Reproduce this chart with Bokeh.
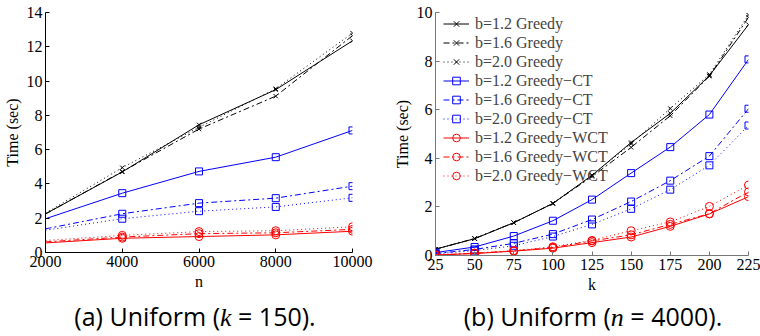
from bokeh.plotting import figure
from bokeh.layouts import row, column
from bokeh.models import Range1d, FixedTicker, Div
from bokeh.embed import file_html
from bokeh.resources import INLINE

# ---------------- data ----------------
n_vals = [2000, 4000, 6000, 8000, 10000]
n_greedy_12 = [2.25, 4.70, 7.45, 9.50, 12.35]
n_greedy_16 = [2.25, 4.72, 7.20, 9.12, 12.65]
n_greedy_20 = [2.30, 4.95, 7.30, 9.55, 12.80]
n_ct_12 = [1.97, 3.46, 4.73, 5.56, 7.12]
n_ct_16 = [1.38, 2.26, 2.88, 3.17, 3.87]
n_ct_20 = [1.30, 1.97, 2.41, 2.66, 3.19]
n_wct_12 = [0.56, 0.83, 0.93, 1.03, 1.24]
n_wct_16 = [0.62, 0.90, 1.10, 1.15, 1.35]
n_wct_20 = [0.70, 1.00, 1.22, 1.27, 1.50]

k_vals = [25, 50, 75, 100, 125, 150, 175, 200, 225]
k_greedy_12 = [0.26, 0.69, 1.35, 2.14, 3.30, 4.65, 5.85, 7.40, 9.50]
k_greedy_16 = [0.26, 0.70, 1.35, 2.14, 3.25, 4.45, 5.75, 7.38, 9.80]
k_greedy_20 = [0.26, 0.70, 1.35, 2.15, 3.30, 4.60, 6.05, 7.45, 9.90]
k_ct_12 = [0.12, 0.35, 0.80, 1.43, 2.30, 3.39, 4.46, 5.80, 8.07]
k_ct_16 = [0.08, 0.25, 0.50, 0.88, 1.48, 2.22, 3.08, 4.09, 6.04]
k_ct_20 = [0.07, 0.20, 0.40, 0.78, 1.28, 1.92, 2.71, 3.71, 5.35]
k_wct_12 = [0.02, 0.08, 0.18, 0.30, 0.53, 0.76, 1.20, 1.71, 2.42]
k_wct_16 = [0.02, 0.09, 0.19, 0.33, 0.60, 0.85, 1.28, 1.72, 2.62]
k_wct_20 = [0.03, 0.10, 0.20, 0.36, 0.62, 1.02, 1.38, 2.02, 2.90]

labels = ["b=1.2 Greedy", "b=1.6 Greedy", "b=2.0 Greedy",
          "b=1.2 Greedy\u2212CT", "b=1.6 Greedy\u2212CT", "b=2.0 Greedy\u2212CT",
          "b=1.2 Greedy\u2212WCT", "b=1.6 Greedy\u2212WCT", "b=2.0 Greedy\u2212WCT"]
n_ticks = [2000, 4000, 6000, 8000, 10000]
n_time_ticks = [0, 2, 4, 6, 8, 10, 12, 14]
k_ticks = [25, 50, 75, 100, 125, 150, 175, 200, 225]
k_time_ticks = [0, 2, 4, 6, 8, 10]

SERIF = "Times New Roman"
colors = ["black"] * 3 + ["#0000ff"] * 3 + ["#ff0000"] * 3
dashes = ["solid", "6 3 2 3", "1 3"] * 3
markers = ["x"] * 3 + ["square"] * 3 + ["circle"] * 3
msizes = [6] * 3 + [7] * 3 + [8] * 3


def style(p, axis_color):
    for ax in (p.xaxis[0], p.yaxis[0]):
        ax.axis_line_color = axis_color
        ax.major_tick_line_color = axis_color
        ax.major_tick_in = 4
        ax.major_tick_out = 0
        ax.minor_tick_line_color = None
        ax.major_label_text_font = SERIF
        ax.major_label_text_font_size = "16px"
        ax.major_label_text_font_style = "normal"
        ax.major_label_text_color = "black"
        ax.axis_label_text_font = SERIF
        ax.axis_label_text_font_size = "16px"
        ax.axis_label_text_font_style = "normal"
        ax.axis_label_text_color = "black"
        ax.major_label_standoff = 3
        ax.axis_label_standoff = 3
    p.xgrid.visible = False
    p.ygrid.visible = False
    p.outline_line_color = None


# ---------------- left plot ----------------
p1 = figure(frame_width=307, frame_height=240, min_border_left=45, min_border_right=28,
            min_border_top=12, min_border_bottom=38, output_backend="svg",
            toolbar_location=None, x_range=Range1d(2000, 10000), y_range=Range1d(0, 14))
p1.xaxis.ticker = FixedTicker(ticks=n_ticks)
p1.yaxis.ticker = FixedTicker(ticks=n_time_ticks)
p1.xaxis.axis_label = "n"
p1.yaxis.axis_label = "Time (sec)"
style(p1, "black")

n_series = [n_greedy_12, n_greedy_16, n_greedy_20, n_ct_12, n_ct_16, n_ct_20,
            n_wct_12, n_wct_16, n_wct_20]
for ys, c, d, m, s in zip(n_series, colors, dashes, markers, msizes):
    p1.line(n_vals, ys, line_color=c, line_dash=d, line_width=1)
    p1.scatter(n_vals[1:], ys[1:], marker=m, size=s, line_color=c, fill_color=None,
               line_width=1)

# ---------------- right plot ----------------
p2 = figure(frame_width=313, frame_height=243, min_border_left=55, min_border_right=12,
            min_border_top=9, min_border_bottom=38, output_backend="svg",
            toolbar_location=None, x_range=Range1d(25, 225), y_range=Range1d(0, 10))
p2.xaxis.ticker = FixedTicker(ticks=k_ticks)
p2.yaxis.ticker = FixedTicker(ticks=k_time_ticks)
p2.xaxis.axis_label = "k"
p2.yaxis.axis_label = "Time (sec)"
style(p2, "#777777")

k_series = [k_greedy_12, k_greedy_16, k_greedy_20, k_ct_12, k_ct_16, k_ct_20,
            k_wct_12, k_wct_16, k_wct_20]
for ys, c, d, m, s, lab in zip(k_series, colors, dashes, markers, msizes, labels):
    p2.line(k_vals, ys, line_color=c, line_dash=d, line_width=1, legend_label=lab)
    p2.scatter(k_vals, ys, marker=m, size=s, line_color=c, fill_color=None,
               line_width=1, legend_label=lab)

lg = p2.legend[0]
lg.location = (8, 70)
lg.label_text_font = SERIF
lg.label_text_font_size = "16px"
lg.label_height = 19
lg.glyph_height = 19
lg.glyph_width = 26
lg.spacing = 0
lg.padding = 2
lg.margin = 0
lg.label_standoff = 6
lg.border_line_color = None
lg.background_fill_alpha = 0

# ---------------- captions ----------------
cap_style = ("width:380px;text-align:center;font-family:'Open Sans';font-size:25px;"
             "line-height:30px;padding-top:4px;color:black;white-space:nowrap;")
ital = "font-family:'Liberation Serif';font-style:italic;font-size:26px;"
div_a = Div(text=f'<div style="{cap_style}">(a) Uniform (<span style="{ital}">k</span> = 150).</div>',
            width=380, height=46)
div_b = Div(text=f'<div style="{cap_style}margin-left:8px;">(b) Uniform (<span style="{ital}">n</span> = 4000).</div>',
            width=380, height=46)

layout = column(row(p1, p2), row(div_a, div_b))

open("out.html", "w").write(file_html(layout, INLINE))
